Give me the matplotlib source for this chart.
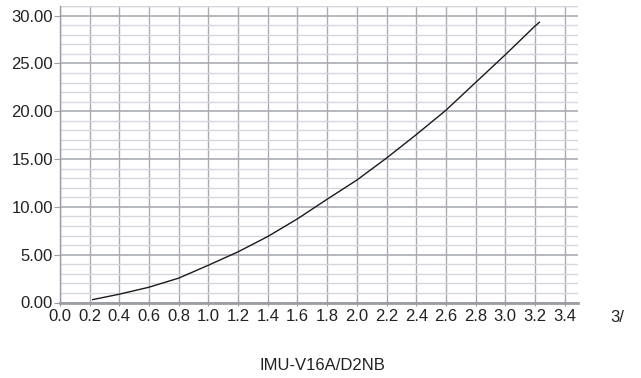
import numpy as np
import matplotlib.pyplot as plt
from matplotlib.ticker import MultipleLocator, FormatStrFormatter
from matplotlib import font_manager

# curve
x_vals = [0.22, 0.4, 0.6, 0.8, 1.0, 1.2, 1.4, 1.6, 1.8, 2.0, 2.2, 2.4, 2.6, 2.8, 3.0, 3.2, 3.23]
y_vals = [0.3, 0.87, 1.6, 2.55, 3.9, 5.3, 6.9, 8.75, 10.8, 12.8, 15.1, 17.55, 20.1, 23.0, 25.9, 28.9, 29.3]

x_ticks = np.round(np.arange(0, 3.41, 0.2), 1)
y_ticks = [0, 5, 10, 15, 20, 25, 30]

names = {f.name for f in font_manager.fontManager.ttflist}
fam = 'Liberation Sans Narrow' if 'Liberation Sans Narrow' in names else 'Liberation Sans'
plt.rcParams['font.family'] = [fam, 'DejaVu Sans']

fig = plt.figure(figsize=(6.41, 3.78), dpi=100)
ax = fig.add_axes([60/641, 1-302.5/378, 518/641, 296.5/378])

ax.set_xlim(0, 3.49)
ax.set_ylim(0, 31)

ax.set_xticks(x_ticks)
ax.set_xticklabels([f'{v:.1f}' for v in x_ticks])
ax.set_yticks(y_ticks)
ax.yaxis.set_major_formatter(FormatStrFormatter('%.2f'))
ax.yaxis.set_minor_locator(MultipleLocator(1))

# grid: light minor horizontals, darker majors and verticals
ax.grid(which='minor', axis='y', color='#d3d7dc', lw=1.0)
ax.grid(which='major', axis='y', color='#a9adb3', lw=1.2)
ax.grid(which='major', axis='x', color='#a9adb3', lw=1.0)
ax.axhline(31, color='#d3d7dc', lw=1.0)
ax.set_axisbelow(True)

for s in ['top', 'right']:
    ax.spines[s].set_visible(False)
ax.spines['left'].set_color('#9a9ea4')
ax.spines['left'].set_linewidth(1.0)
ax.spines['bottom'].set_color('#9a9ea4')
ax.spines['bottom'].set_linewidth(2.0)

ax.tick_params(axis='y', which='major', length=4, color='#9a9ea4', labelsize=12, pad=1, labelcolor='#222222')
ax.tick_params(axis='y', which='minor', length=0)
ax.tick_params(axis='x', which='major', length=4, direction='inout', color='#9a9ea4', labelsize=12, pad=3, labelcolor='#222222')

ax.plot(x_vals, y_vals, color='#1a1a1a', lw=1.0)

fig.text(617/641, 1-318/378, '3/', fontsize=12, ha='center', va='center', color='#222222')
fig.text(322/641, 1-366/378, 'IMU-V16A/D2NB', fontsize=12, ha='center', va='center', color='#222222')

fig.savefig('out.png', dpi=100)
